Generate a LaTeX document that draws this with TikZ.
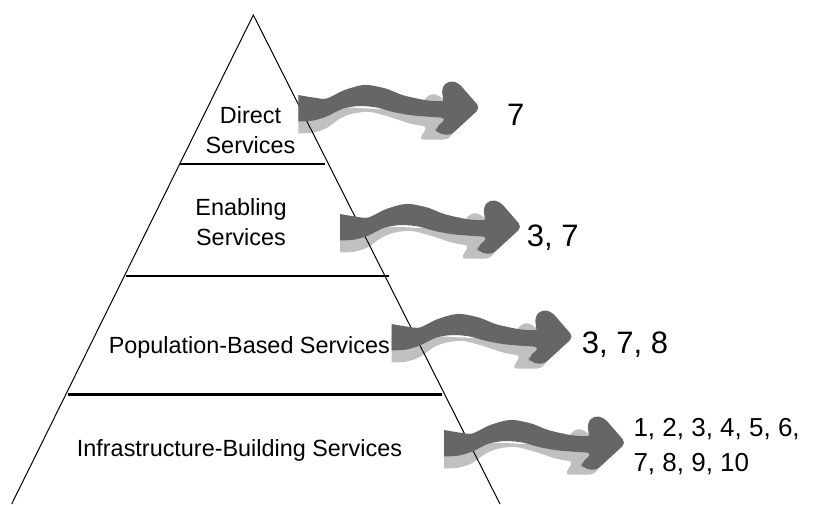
\documentclass[tikz,border=0pt]{standalone}
\usepackage{fontspec}
\setmainfont{Liberation Sans}
\definecolor{arrdark}{HTML}{666666}
\definecolor{arrlight}{HTML}{C0C0C0}
\tikzset{
  tierline/.style={line width=2.7pt},
  pyrside/.style={line width=1pt},
  tiertext/.style={font=\fontsize{23.4}{30}\selectfont, align=center, inner sep=0pt, anchor=base},
  lbltext/.style={font=\fontsize{31}{36}\selectfont, align=left, inner sep=0pt, anchor=base west},
  arrowshadow/.pic={
    \fill[arrlight] (0,10) -- (120,16) [rounded corners=4pt] -- (127,3) -- (133,-1.5) -- (141,0.5) -- (165,24) -- (150,44.5) -- (121,44.5) -- (129,31.5) [sharp corners]
      -- plot[smooth] coordinates {(128.3,31.5) (111.7,28.5) (91.7,22) (71.7,17) (55,18.5) (41.7,23.5) (28.3,33) (15,37.5) (0,38.5)} -- cycle;
  },
  arrowbody/.pic={
    \fill[arrdark] (0,0) -- plot[smooth] coordinates {(0,0) (15,2.5) (28.3,3.5) (45,-4.5) (61.7,-9.5) (71.7,-9.8) (88.3,-6.2) (105,0.3) (128.3,5.3) (145,6.2)}
      [rounded corners=5pt] -- (143.3,-7) -- (150,-14.5) -- (160,-12.3) -- (182,13) -- (152,40.5) -- (138.3,38) -- (137,33) -- (148.3,23.5) [sharp corners]
      -- (141.7,22.5) -- plot[smooth] coordinates {(141.7,22.5) (115,20.5) (95,17) (78.3,12.5) (61.7,11) (45,13.5) (28.3,21.5) (15,25.5) (0,26.5)} -- cycle;
  }
}
\begin{document}
\begin{tikzpicture}[x=1pt,y=-1pt]
\useasboundingbox (0,0) rectangle (817,504);
\fill[white] (0,0) rectangle (817,504);
\clip (0,0) rectangle (817,504);
% arrow shadows
\pic at (298.3,95) {arrowshadow};
\pic at (340,214) {arrowshadow};
\pic at (391.5,324) {arrowshadow};
\pic at (444,430) {arrowshadow};
% pyramid
\coordinate (apex) at (253.3,15);
\coordinate (bl) at (11.7,504);
\coordinate (br) at (500,504);
\draw[pyrside] (bl) -- (apex) -- (br);
\coordinate (l1a) at (180,164);   \coordinate (l1b) at (325,164);
\coordinate (l2a) at (126,276);   \coordinate (l2b) at (389,276);
\coordinate (l3a) at (68,394.3);  \coordinate (l3b) at (441.7,394.3);
\draw[tierline] (l1a) -- (l1b);
\draw[tierline] (l2a) -- (l2b);
\draw[tierline] (l3a) -- (l3b);
% arrow bodies
\pic at (298.3,95) {arrowbody};
\pic at (340,214) {arrowbody};
\pic at (391.5,324) {arrowbody};
\pic at (444,430) {arrowbody};
% tier texts (base anchor = baseline of last line)
\node[tiertext] (t1) at (250.5,153.3) {Direct\\Services};
\node[tiertext] (t2) at (241,245) {Enabling\\Services};
\node[tiertext] (t3) at (249.3,353.3) {Population-Based Services};
\node[tiertext] (t4) at (239.5,456) {Infrastructure-Building Services};
% labels
\node[lbltext] (n1) at (507,125) {7};
\node[lbltext] (n2) at (526.7,246.7) {3, 7};
\node[lbltext] (n3) at (581.7,353.3) {3, 7, 8};
\node[lbltext, font=\fontsize{26}{35.7}\selectfont] (n4) at (633.3,471.7) {1, 2, 3, 4, 5, 6,\\7, 8, 9, 10};
\end{tikzpicture}
\end{document}
